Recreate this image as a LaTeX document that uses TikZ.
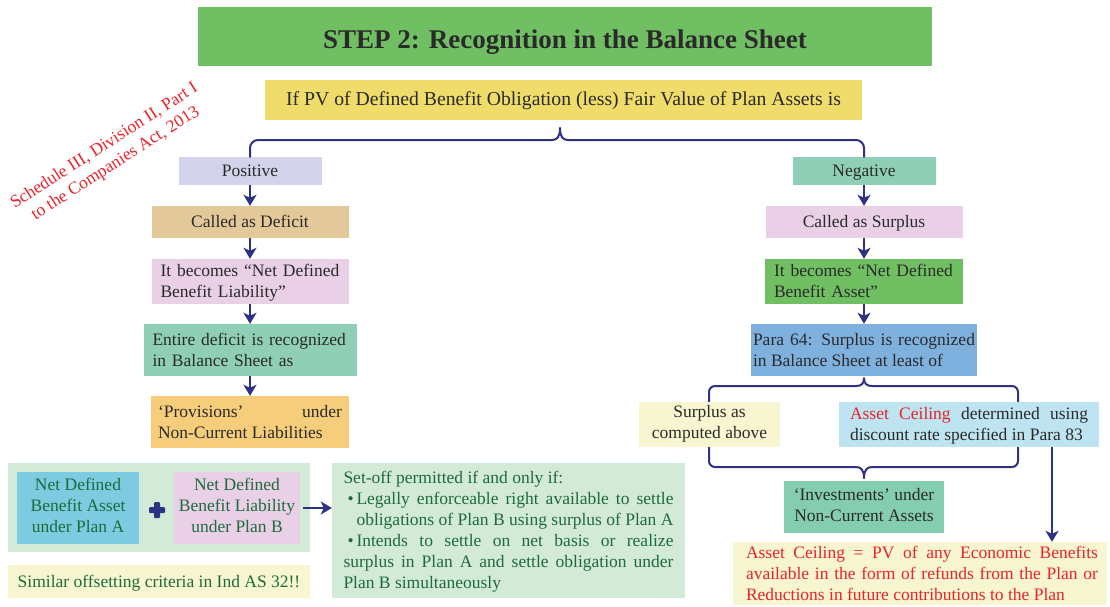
\documentclass[tikz,border=0pt]{standalone}
\usepackage{fontspec}
\setmainfont{Liberation Serif}
\usetikzlibrary{arrows.meta,calc}
\definecolor{cTitle}{HTML}{71BF63}
\definecolor{cTop}{HTML}{EFDC6B}
\definecolor{cLav}{HTML}{D3D3EB}
\definecolor{cTan}{HTML}{E3C899}
\definecolor{cPink}{HTML}{E9D0E7}
\definecolor{cTeal}{HTML}{8FCFB6}
\definecolor{cOrange}{HTML}{F6CE7B}
\definecolor{cBlue}{HTML}{7FB1DF}
\definecolor{cLY}{HTML}{F8F6D0}
\definecolor{cLB}{HTML}{BEE4F1}
\definecolor{cInv}{HTML}{85CDB1}
\definecolor{cCyan}{HTML}{7DCBE0}
\definecolor{cPanel}{HTML}{D3EAD8}
\definecolor{cNavy}{HTML}{2D3282}
\definecolor{cRed}{HTML}{E8232B}
\definecolor{cText}{HTML}{2A2A2A}
\definecolor{cGreenT}{HTML}{1D6B3B}
\newcommand\mystrut{\rule[-5pt]{0pt}{21pt}}
\tikzset{
  bx/.style={rectangle, inner sep=0pt, text=cText, font=\fontsize{17.5}{21}\selectfont,
    execute at begin node=\mystrut, execute at end node=\mystrut},
  arr/.style={-{Stealth[length=11pt,width=13pt,inset=3pt]}, line width=2.2pt, draw=cNavy},
  brc/.style={line width=2pt, draw=cNavy, line cap=round, line join=round},
}
\begin{document}
\begin{tikzpicture}[x=1pt,y=-1pt]
\useasboundingbox (0,0) rectangle (1110,607);

% title and top
\node[rectangle, inner sep=0pt, text=cText, fill=cTitle, minimum width=734, minimum height=59, font=\fontsize{27}{32}\selectfont\bfseries] (title) at (565,36.5) {\raisebox{-12pt}[0pt][0pt]{STEP 2: Recognition in the Balance Sheet}};
\node[bx, fill=cTop, minimum width=597, minimum height=40, font=\fontsize{19.7}{24}\selectfont] (top) at (563.5,100) {If PV of Defined Benefit Obligation (less) Fair Value of Plan Assets is};

% rotated red note
\node[rectangle, inner sep=0pt, font=\fontsize{17.5}{21}\selectfont, text=cRed, align=center, rotate=32.7] (sched) at (110,155) {Schedule III, Division II, Part I\\to the Companies Act, 2013};

% left column
\node[bx, fill=cLav, minimum width=143, minimum height=28] (pos) at (250,171) {Positive};
\node[bx, fill=cTan, minimum width=197, minimum height=32] (deficit) at (250,222) {Called as Deficit};
\node[bx, fill=cPink, minimum width=197, minimum height=45, text width=179, align=left] (ndbl) at (250,281.5) {It becomes “Net Defined\\Benefit Liability”};
\node[bx, fill=cTeal, minimum width=213, minimum height=52, text width=195, align=left] (entire) at (250,350) {Entire deficit is recognized\\in Balance Sheet as};
\node[bx, fill=cOrange, minimum width=198, minimum height=52, text width=184, align=justify] (prov) at (250,422) {‘Provisions’ under\linebreak Non-Current Liabilities};

% right column
\node[bx, fill=cTeal, minimum width=143, minimum height=28] (neg) at (864,171) {Negative};
\node[bx, fill=cPink, minimum width=197, minimum height=32] (surplus) at (864,222) {Called as Surplus};
\node[bx, fill=cTitle, minimum width=198, minimum height=45, text width=180, align=left] (ndba) at (864,281.5) {It becomes “Net Defined\\Benefit Asset”};
\node[bx, fill=cBlue, minimum width=226, minimum height=52, text width=222, align=justify] (para) at (864,350) {Para 64: Surplus is recognized\linebreak in Balance Sheet at least of};

% top brace
\draw[brc, rounded corners=8pt] (pos.north) |- (552,140);
\draw[brc] (552,140) .. controls (557,140) and (560,137) .. (560,128) .. controls (560,137) and (563,140) .. (568,140);
\draw[brc, rounded corners=8pt] (568,140) -| (neg.north);

% lower bracket (drawn before the boxes that cover it)
\coordinate (bt) at ($(para.south)+(0,2)$);
\coordinate (bb) at (864,478);
\draw[brc, rounded corners=6pt] (856,386) -- (709,386) -- (709,467) -- (856,467);
\draw[brc, rounded corners=6pt] (872,386) -- (1018,386) -- (1018,467) -- (872,467);
\draw[brc] (856,386) .. controls (861,386) and (864,384) .. (bt) .. controls (864,384) and (867,386) .. (872,386);
\draw[brc] (856,467) .. controls (861,467) and (864,470) .. (bb) .. controls (864,470) and (867,467) .. (872,467);

\node[bx, fill=cLY, minimum width=141, minimum height=45, align=center] (sca) at (709.5,424.5) {Surplus as\\computed above};
\node[bx, fill=cLB, minimum width=260, minimum height=45, text width=238, align=justify] (ac) at (969,424.5) {\textcolor{cRed}{Asset Ceiling} determined using\linebreak discount rate specified in Para 83};
\node[bx, fill=cLY, minimum width=374, minimum height=63, align=center] (acbox) at (920,573.5) {};
\node[bx, text width=352, align=justify, text=cRed] (actext) at (922,573.5) {Asset Ceiling = PV of any Economic Benefits\linebreak available in the form of refunds from the Plan or\linebreak Reductions in future contributions to the Plan};
\node[bx, fill=cInv, minimum width=160, minimum height=52, align=center] (inv) at (864,507) {‘Investments’ under\\Non-Current Assets};

% arrows
\draw[arr] (pos.south) -- (deficit.north);
\draw[arr] (deficit.south) -- (ndbl.north);
\draw[arr] (ndbl.south) -- (entire.north);
\draw[arr] (entire.south) -- (prov.north);
\draw[arr] (neg.south) -- (surplus.north);
\draw[arr] (surplus.south) -- (ndba.north);
\draw[arr] (ndba.south) -- (para.north);
\draw[arr] (ac.south -| 1052,0) -- (acbox.north -| 1052,0);

% bottom left
\node[bx, fill=cPanel, minimum width=302, minimum height=89] (panel) at (159,507.5) {};
\node[bx, fill=cCyan, minimum width=122, minimum height=72, align=center, text=cGreenT] (nba) at (78,508) {Net Defined\\Benefit Asset\\under Plan A};
\node[bx, fill=cPink, minimum width=126, minimum height=72, align=center, text=cGreenT] (nbl) at (237,508) {Net Defined\\Benefit Liability\\under Plan B};
\node[minimum size=16pt, inner sep=0pt] (plus) at (157,510) {};
\fill[cNavy, rounded corners=1pt] ($(plus.center)+(-8,-3)$) rectangle ($(plus.center)+(8,3)$);
\fill[cNavy, rounded corners=1pt] ($(plus.center)+(-3,-8)$) rectangle ($(plus.center)+(3,8)$);
\node[bx, fill=cPanel, minimum width=353, minimum height=135, text width=330, align=justify, text=cGreenT] (setoff) at (508.5,530.5) {Set-off permitted if and only if:\par
\hangindent=13pt\hangafter=1\noindent\hspace*{4pt}\makebox[9pt][l]{\textbullet}Legally enforceable right available to settle\linebreak obligations of Plan B using surplus of Plan A\par
\hangindent=13pt\hangafter=1\noindent\hspace*{4pt}\makebox[9pt][l]{\textbullet}Intends to settle on net basis or realize\linebreak surplus in Plan A and settle obligation under\linebreak Plan B simultaneously};
\node[bx, fill=cLY, minimum width=302, minimum height=33, text=cGreenT] (similar) at (159,581.5) {Similar offsetting criteria in Ind AS 32!!};
\draw[arr] ($(nbl.east)+(3,0)$) -- (nbl.east -| setoff.west);
\end{tikzpicture}
\end{document}
